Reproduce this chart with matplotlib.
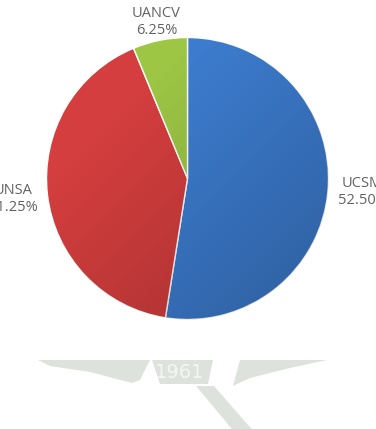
import matplotlib.pyplot as plt
import numpy as np
from matplotlib.patches import Polygon, Circle

labels = ["UCSM", "UNSA", "UANCV"]
values = [52.50, 41.25, 6.25]
colors = ["#3d7dd0", "#d43e3e", "#9dc645"]
label_dist = [1.245, 1.245, 1.13]

W, H = 376, 429
cx, cy, R = 187.5, 178.5, 141.0

fig = plt.figure(figsize=(W / 100, H / 100), dpi=100)
ax = fig.add_axes([0, 0, 1, 1])

# faint watermark below the pie (pixel coords)
wm = "#dde3dc"
shapes = [
    [(38, 360), (150, 360), (140, 380), (132, 383), (90, 372), (50, 366)],
    [(152, 360), (213, 360), (208, 384), (160, 384)],
    [(240, 360), (327, 360), (290, 368), (250, 378), (233, 386)],
    [(196, 386), (214, 386), (248, 425), (252, 429), (232, 429)],
]
for pts in shapes:
    xy = [((x - cx) / R, (cy - y) / R) for x, y in pts]
    ax.add_patch(Polygon(xy, closed=True, fc=wm, ec="none", zorder=0))
ax.text((180 - cx) / R, (cy - 372) / R, "1961", color="#f4f6f3", fontsize=14,
        ha="center", va="center", family="DejaVu Sans", zorder=1)

wedges, _ = ax.pie(values, colors=colors, startangle=90, counterclock=False,
                   radius=1.0, center=(0, 0), frame=True,
                   wedgeprops=dict(edgecolor="white", linewidth=1.0))
ax.set_xlim(-cx / R, (W - cx) / R)
ax.set_ylim(-(H - cy) / R, cy / R)
ax.set_aspect("equal")
ax.axis("off")

# soft shading over the pie, darker toward the bottom-right
n = 300
xs = np.linspace(-1, 1, n)
X, Y = np.meshgrid(xs, xs)
shade = np.zeros((n, n, 4))
d = (X - Y) / 2.0
shade[..., 3] = np.clip(0.08 + 0.16 * d, 0, 0.3)
img = ax.imshow(shade, extent=(-1, 1, -1, 1), origin="lower", zorder=3)
img.set_clip_path(Circle((0, 0), 1.0, transform=ax.transData))

for w, lab, val, dist in zip(wedges, labels, values, label_dist):
    ang = np.deg2rad((w.theta1 + w.theta2) / 2)
    ax.text(dist * np.cos(ang), dist * np.sin(ang), f"{lab}\n{val:.2f}%",
            ha="center", va="center", fontsize=10.5, color="#626262",
            family="Open Sans", linespacing=1.2, zorder=4)

fig.savefig("out.png", dpi=100)
